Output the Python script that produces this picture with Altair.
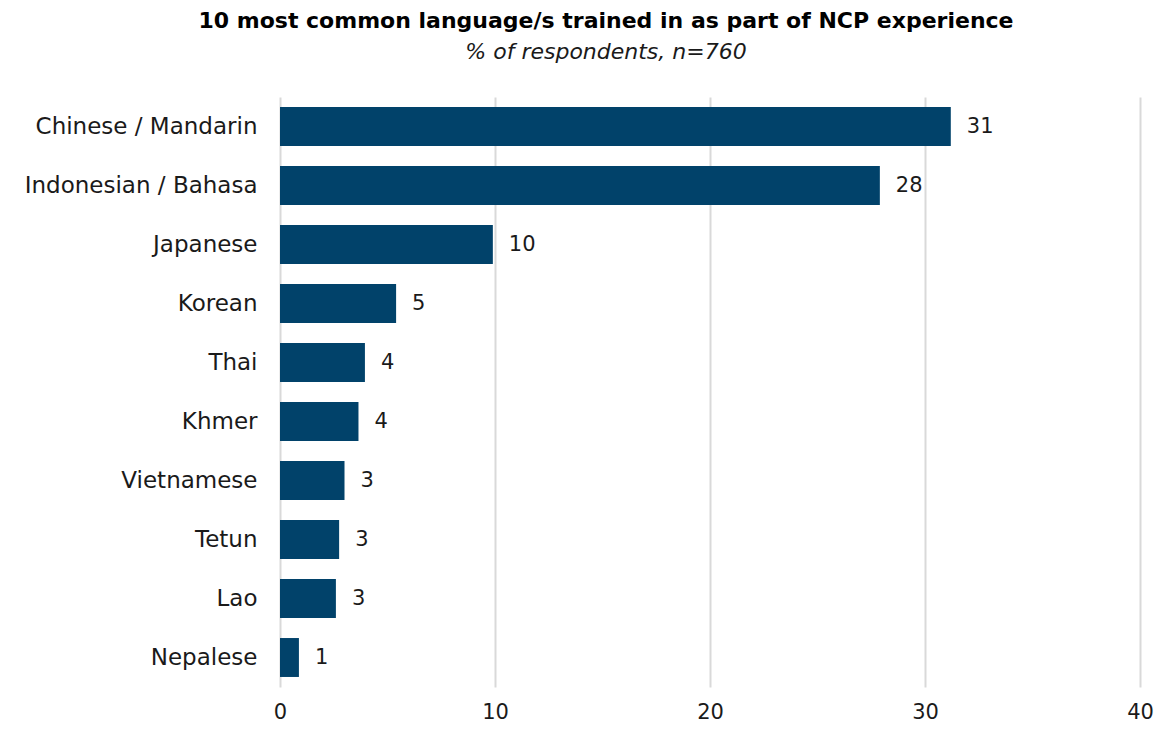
import altair as alt
import pandas as pd

languages = ["Chinese / Mandarin", "Indonesian / Bahasa", "Japanese", "Korean", "Thai",
             "Khmer", "Vietnamese", "Tetun", "Lao", "Nepalese"]
values = [31.2, 27.9, 9.9, 5.4, 3.95, 3.65, 3.0, 2.75, 2.6, 0.88]
labels = ["31", "28", "10", "5", "4", "4", "3", "3", "3", "1"]

df = pd.DataFrame({"lang": languages, "val": values, "lab": labels})

FONT = "DejaVu Sans"

y = alt.Y("lang:N", sort=languages, title=None,
          scale=alt.Scale(paddingInner=0.34, paddingOuter=0.17),
          axis=alt.Axis(domain=False, ticks=False, labelFontSize=23, labelFont=FONT,
                        labelColor="#1a1a1a", labelPadding=23, labelLimit=400))
x = alt.X("val:Q", title=None, scale=alt.Scale(domain=[0, 40], nice=False),
          axis=alt.Axis(values=[0, 10, 20, 30, 40], domain=False, ticks=False,
                        gridColor="#d9d9d9", gridWidth=2, labelFontSize=21,
                        labelFont=FONT, labelColor="#1a1a1a", labelPadding=14,
                        labelFlush=False))

bars = alt.Chart(df).mark_bar(color="#01426A").encode(x=x, y=y)
text = alt.Chart(df).mark_text(align="left", baseline="middle", dx=16, fontSize=21,
                               font=FONT, color="#1a1a1a").encode(
    x="val:Q", y=alt.Y("lang:N", sort=languages), text="lab:N")

chart = (bars + text).properties(
    width=860, height=590,
    autosize=alt.AutoSizeParams(type="none"),
    padding={"left": 272, "top": 89, "right": 21, "bottom": 36},
    title=alt.TitleParams(
        text="10 most common language/s trained in as part of NCP experience",
        subtitle="% of respondents, n=760",
        font=FONT, fontSize=22, fontWeight="bold", color="#000000",
        subtitleFont=FONT, subtitleFontSize=22, subtitleFontStyle="italic",
        subtitleColor="#1a1a1a", anchor="middle", dx=-104, offset=33,
        subtitlePadding=9),
).configure_view(stroke=None)

chart.save("out.html", embed_options={"renderer": "svg", "actions": False})
